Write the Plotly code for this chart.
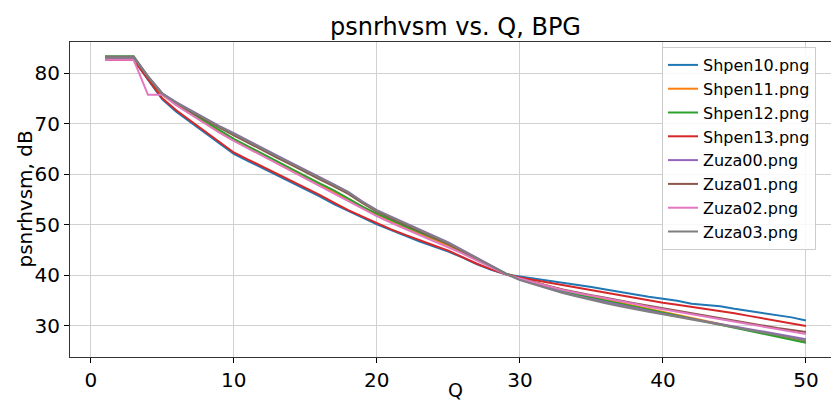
import plotly.graph_objects as go

Q = list(range(1, 51))

names = ["Shpen10.png", "Shpen11.png", "Shpen12.png", "Shpen13.png",
         "Zuza00.png", "Zuza01.png", "Zuza02.png", "Zuza03.png"]
colors = ["#1f77b4", "#ff7f0e", "#2ca02c", "#d62728",
          "#9467bd", "#8c564b", "#e377c2", "#7f7f7f"]

shpen10 = [82.7, 82.7, 82.7, 78.7, 74.8, 72.3, 70.2, 68.1, 66.0, 64.0,
           62.6, 61.2, 59.8, 58.4, 57.1, 55.6, 54.1, 52.7, 51.4, 50.1,
           48.9, 47.8, 46.7, 45.7, 44.7, 43.5, 42.2, 41.1, 40.2, 39.8,
           39.4, 39.0, 38.6, 38.2, 37.7, 37.2, 36.7, 36.2, 35.8, 35.4,
           35.0, 34.4, 34.1, 33.9, 33.4, 33.0, 32.6, 32.1, 31.7, 31.1]
shpen11 = [83.2, 83.2, 83.2, 79.2, 75.7, 73.7, 71.9, 70.1, 68.3, 66.7,
           65.2, 63.8, 62.3, 60.8, 59.3, 57.9, 56.5, 54.9, 53.3, 51.9,
           50.6, 49.4, 48.2, 47.0, 45.9, 44.5, 43.1, 41.7, 40.3, 39.5,
           38.7, 37.9, 37.1, 36.4, 35.8, 35.2, 34.6, 34.0, 33.4, 32.8,
           32.2, 31.5, 30.9, 30.3, 29.7, 29.1, 28.5, 27.9, 27.3, 26.8]
shpen12 = [83.3, 83.3, 83.3, 79.3, 75.9, 73.9, 72.2, 70.5, 68.7, 67.0,
           65.5, 64.1, 62.6, 61.1, 59.6, 58.2, 56.8, 55.2, 53.6, 52.2,
           50.9, 49.7, 48.5, 47.3, 46.2, 44.8, 43.3, 41.8, 40.4, 39.5,
           38.6, 37.7, 36.9, 36.2, 35.6, 35.1, 34.5, 33.9, 33.3, 32.6,
           32.0, 31.4, 30.8, 30.2, 29.6, 29.0, 28.4, 27.8, 27.2, 26.7]
shpen13 = [82.6, 82.6, 82.6, 78.8, 75.0, 72.6, 70.5, 68.4, 66.3, 64.3,
           62.9, 61.5, 60.1, 58.7, 57.4, 55.9, 54.4, 52.9, 51.6, 50.3,
           49.1, 48.0, 46.9, 45.9, 44.9, 43.6, 42.3, 41.2, 40.2, 39.6,
           39.1, 38.6, 38.1, 37.6, 37.1, 36.5, 36.0, 35.5, 35.0, 34.6,
           34.2, 33.8, 33.4, 33.0, 32.5, 32.0, 31.5, 31.0, 30.5, 30.0]
zuza00 = [83.2, 83.2, 83.2, 79.4, 76.0, 74.2, 72.6, 71.0, 69.5, 68.1,
          66.6, 65.2, 63.7, 62.3, 60.8, 59.4, 58.0, 56.5, 54.6, 52.9,
          51.6, 50.3, 49.0, 47.7, 46.5, 45.0, 43.5, 41.9, 40.4, 39.2,
          38.3, 37.4, 36.6, 35.9, 35.3, 34.7, 34.1, 33.5, 32.9, 32.4,
          31.9, 31.4, 30.9, 30.4, 29.9, 29.4, 28.9, 28.4, 27.9, 27.4]
zuza01 = [83.1, 83.1, 83.1, 79.2, 75.8, 73.9, 72.3, 70.7, 69.2, 67.7,
          66.2, 64.8, 63.3, 61.9, 60.4, 59.0, 57.6, 56.1, 54.3, 52.6,
          51.3, 50.0, 48.7, 47.4, 46.2, 44.7, 43.2, 41.7, 40.3, 39.4,
          38.6, 37.9, 37.2, 36.6, 36.1, 35.6, 35.0, 34.5, 34.0, 33.5,
          33.0, 32.5, 32.0, 31.5, 31.0, 30.5, 30.0, 29.6, 29.2, 28.8]
zuza02 = [82.6, 82.6, 82.6, 75.7, 75.7, 73.6, 71.8, 70.0, 68.2, 66.6,
          65.1, 63.7, 62.2, 60.6, 59.1, 57.7, 56.2, 54.6, 53.1, 51.7,
          50.4, 49.2, 48.0, 46.8, 45.6, 44.3, 42.9, 41.5, 40.2, 39.4,
          38.6, 37.8, 37.1, 36.5, 36.0, 35.5, 34.9, 34.4, 33.8, 33.3,
          32.8, 32.3, 31.8, 31.3, 30.8, 30.3, 29.8, 29.3, 28.8, 28.4]
zuza03 = [83.1, 83.1, 83.1, 79.3, 75.9, 74.1, 72.5, 70.9, 69.4, 68.0,
          66.5, 65.1, 63.6, 62.2, 60.7, 59.3, 57.9, 56.4, 54.5, 52.8,
          51.5, 50.2, 48.9, 47.6, 46.4, 44.9, 43.4, 41.8, 40.3, 39.1,
          38.2, 37.3, 36.5, 35.8, 35.1, 34.5, 33.9, 33.3, 32.8, 32.3,
          31.8, 31.3, 30.8, 30.3, 29.8, 29.3, 28.8, 28.3, 27.7, 27.1]

series = [shpen10, shpen11, shpen12, shpen13, zuza00, zuza01, zuza02, zuza03]

x_ticks = [0, 10, 20, 30, 40, 50]
y_ticks = [30, 40, 50, 60, 70, 80]

FONT = "DejaVu Sans"
W, H = 831, 403
ML, MR, MT, MB = 70, 0, 42, 46
PW, PH = W - ML - MR, H - MT - MB

fig = go.Figure()
for name, col, vals in zip(names, colors, series):
    fig.add_trace(go.Scatter(x=Q, y=vals, mode="lines", name=name,
                             line=dict(color=col, width=2)))

fig.update_layout(
    width=W, height=H,
    margin=dict(l=ML, r=MR, t=MT, b=MB, autoexpand=False),
    paper_bgcolor="white", plot_bgcolor="white",
    font=dict(family=FONT, color="black"),
    legend=dict(x=(662 - ML) / PW, xanchor="left",
                y=1 - (47 - MT) / PH, yanchor="top",
                bgcolor="rgba(255,255,255,0.85)", bordercolor="#cccccc",
                borderwidth=1, font=dict(size=16, family=FONT),
                tracegroupgap=0),
    showlegend=True,
    annotations=[
        dict(text="psnrhvsm vs. Q, BPG", xref="paper", yref="paper",
             x=(455 - ML) / PW, y=1 + (MT - 27) / PH, xanchor="center",
             yanchor="middle", showarrow=False,
             font=dict(size=24, family=FONT)),
        dict(text="Q", xref="paper", yref="paper",
             x=(455 - ML) / PW, y=-(390 - MT - PH) / PH, xanchor="center",
             yanchor="middle", showarrow=False,
             font=dict(size=19, family=FONT)),
        dict(text="psnrhvsm, dB", xref="paper", yref="paper",
             x=-(ML - 24) / PW, y=0.5, xanchor="center", yanchor="middle",
             textangle=-90, showarrow=False,
             font=dict(size=20, family=FONT)),
    ],
)
fig.update_xaxes(range=[-1.45, 51.75], tickvals=x_ticks, ticks="outside",
                 ticklen=5, tickcolor="black", showgrid=True,
                 gridcolor="#d0d0d0", gridwidth=1, showline=True,
                 linecolor="#333333", linewidth=1.2, mirror=True,
                 zeroline=False, tickfont=dict(size=20), automargin=False)
fig.update_yaxes(range=[23.87, 86.13], tickvals=y_ticks, ticks="outside",
                 ticklen=5, tickcolor="black", showgrid=True,
                 gridcolor="#d0d0d0", gridwidth=1, showline=True,
                 linecolor="#333333", linewidth=1.2, mirror=False,
                 zeroline=False, tickfont=dict(size=20), automargin=False)

fig.write_html(
    "out.html",
    config={"displayModeBar": False},
    post_script="document.body.style.margin='0';document.body.style.overflow='hidden';",
)
